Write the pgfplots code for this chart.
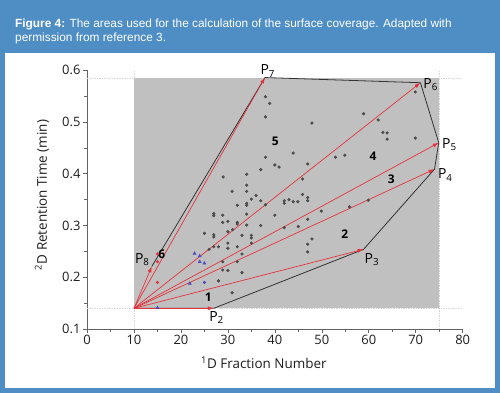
\documentclass[border=0pt]{standalone}
\usepackage{fontspec}
\setmainfont{Open Sans}
\newfontfamily\capfont{Liberation Sans}
\usepackage{pgfplots}
\pgfplotsset{compat=1.18}
\usetikzlibrary{arrows.meta}
\definecolor{banner}{RGB}{78,142,196}
\definecolor{areagray}{RGB}{192,192,192}
\definecolor{dotgray}{RGB}{75,75,75}
\definecolor{hullred}{RGB}{230,50,60}
\definecolor{triblue}{RGB}{75,75,190}
\definecolor{axisgray}{RGB}{100,100,100}
\definecolor{labelcol}{RGB}{30,30,30}
\definecolor{refline}{RGB}{215,215,215}

\pgfplotstableread{
x y
38.0 0.549
38.9 0.536
38.0 0.510
38.0 0.432
37.0 0.408
40.0 0.417
40.9 0.413
29.0 0.394
34.0 0.399
34.0 0.378
30.9 0.366
34.0 0.366
36.0 0.358
35.0 0.351
37.0 0.348
32.0 0.339
34.0 0.343
34.0 0.339
38.0 0.340
42.0 0.348
42.0 0.343
43.0 0.350
27.0 0.323
27.0 0.319
28.9 0.320
34.0 0.322
40.0 0.320
28.9 0.306
30.0 0.308
32.0 0.306
32.0 0.303
34.0 0.301
37.0 0.300
42.0 0.296
25.0 0.285
31.0 0.292
30.0 0.288
27.0 0.282
27.0 0.278
33.0 0.281
35.0 0.281
35.0 0.276
30.0 0.266
35.0 0.266
27.0 0.259
28.0 0.259
26.0 0.254
30.0 0.256
32.0 0.259
33.0 0.245
28.9 0.230
32.0 0.230
28.9 0.214
30.0 0.213
33.0 0.209
28.0 0.193
30.9 0.170
47.9 0.498
58.9 0.516
62.0 0.504
69.9 0.558
63.0 0.480
63.9 0.479
63.9 0.467
69.9 0.469
43.9 0.440
52.9 0.432
54.9 0.436
47.0 0.419
45.9 0.390
45.9 0.360
47.0 0.354
47.0 0.348
43.9 0.346
44.9 0.346
55.9 0.336
59.9 0.349
49.9 0.328
45.0 0.298
47.0 0.312
47.9 0.274
47.0 0.264
47.0 0.249
}\darkpts

\pgfplotstableread{
x y
15.0 0.245
15.0 0.230
15.0 0.190
}\redpts

\pgfplotstableread{
x y
22.9 0.246
24.0 0.241
24.0 0.230
25.0 0.227
21.9 0.188
15.0 0.141
}\bluetri

\begin{document}
\begin{tikzpicture}
\fill[banner] (0bp,0bp) rectangle (500bp,-393bp);
\fill[white] (5bp,-53bp) rectangle (495bp,-388bp);
\node[anchor=base west, text=white, inner sep=0pt, font=\capfont\fontsize{11.9}{13}\selectfont] at (15bp,-27.5bp) {\textbf{Figure 4:} The areas used for the calculation of the surface coverage. Adapted with};
\node[anchor=base west, text=white, inner sep=0pt, font=\capfont\fontsize{11.9}{13}\selectfont] at (15bp,-41.5bp) {permission from reference 3.};
\begin{axis}[
  at={(87bp,-329bp)}, anchor=south west,
  scale only axis, width=375.7bp, height=258.7bp,
  xmin=0, xmax=80, ymin=0.1, ymax=0.6,
  axis x line*=bottom, axis y line*=left,
  axis line style={draw=axisgray, line width=0.8pt},
  tick align=outside,
  major tick style={axisgray, line width=0.6pt},
  minor tick style={axisgray, line width=0.6pt},
  major tick length=4bp, minor tick length=3bp,
  xtick={0,10,...,80}, minor xtick={5,15,...,75},
  ytick={0.1,0.2,0.3,0.4,0.5,0.6},
  yticklabels={0.1,0.2,0.3,0.4,0.5,0.6},
  minor ytick={0.15,0.25,0.35,0.45,0.55},
  /pgf/number format/assume math mode=true,
  tick label style={font=\fontsize{13}{13}\selectfont, text=labelcol},
  xticklabel style={yshift=1bp},
  yticklabel style={xshift=1bp},
  clip=false,
  xlabel={\textsuperscript{1}D Fraction Number},
  ylabel={\textsuperscript{2}D Retention Time (min)},
  label style={font=\fontsize{13.5}{13.5}\selectfont, text=labelcol},
  xlabel style={at={(axis description cs:0.471,-0.131)}, anchor=center},
  ylabel style={at={(axis description cs:-0.12,0.518)}, anchor=center},
]
% reference lines
\addplot[refline, line width=0.6pt, dash pattern=on 1.5pt off 1pt] coordinates {(0,0.14) (80,0.14)};
\addplot[refline, line width=0.6pt, dash pattern=on 1.5pt off 1pt] coordinates {(0,0.585) (80,0.585)};
\addplot[refline, line width=0.6pt, dash pattern=on 1.5pt off 1pt] coordinates {(10,0.1) (10,0.6)};
\addplot[refline, line width=0.6pt, dash pattern=on 1.5pt off 1pt] coordinates {(75,0.1) (75,0.6)};
% gray area
\addplot[fill=areagray, draw=none] coordinates {(10,0.14) (75,0.14) (75,0.585) (10,0.585)} -- cycle;
% data
\addplot[only marks, mark=*, mark size=1.4pt, color=dotgray] table {\darkpts};
\addplot[only marks, mark=*, mark size=1.4pt, color=hullred] table {\redpts};
\addplot[only marks, mark=triangle*, mark size=1.8pt, color=triblue] table {\bluetri};
\addplot[only marks, mark=*, mark size=1.4pt, color=triblue] coordinates {(25,0.190)};
% hull
\addplot[color=black!80, line width=0.8pt] coordinates {(10,0.14) (27,0.14) (58.9,0.254) (74.0,0.409) (74.9,0.460) (71.0,0.576) (37.9,0.586) (13.8,0.221)};
% red arrows
\addplot[hullred, line width=0.7pt, -{Latex[length=6bp,width=4bp]}] coordinates {(10,0.14) (27,0.14)};
\addplot[hullred, line width=0.7pt, -{Latex[length=6bp,width=4bp]}] coordinates {(10,0.14) (58.9,0.254)};
\addplot[hullred, line width=0.7pt, -{Latex[length=6bp,width=4bp]}] coordinates {(10,0.14) (74.0,0.409)};
\addplot[hullred, line width=0.7pt, -{Latex[length=6bp,width=4bp]}] coordinates {(10,0.14) (74.9,0.460)};
\addplot[hullred, line width=0.7pt, -{Latex[length=6bp,width=4bp]}] coordinates {(10,0.14) (71.0,0.576)};
\addplot[hullred, line width=0.7pt, -{Latex[length=6bp,width=4bp]}] coordinates {(10,0.14) (37.9,0.586)};
\addplot[hullred, line width=0.7pt, -{Latex[length=6bp,width=4bp]}] coordinates {(10,0.14) (13.8,0.221)};
% point labels
\node[anchor=base, inner sep=0pt, font=\fontsize{14}{14}\selectfont] at (axis cs:38.5,0.591) {P\textsubscript{7}};
\node[anchor=base west, inner sep=0pt, font=\fontsize{14}{14}\selectfont] at (axis cs:71.6,0.565) {P\textsubscript{6}};
\node[anchor=base west, inner sep=0pt, font=\fontsize{14}{14}\selectfont] at (axis cs:75.6,0.449) {P\textsubscript{5}};
\node[anchor=base west, inner sep=0pt, font=\fontsize{14}{14}\selectfont] at (axis cs:74.7,0.390) {P\textsubscript{4}};
\node[anchor=base west, inner sep=0pt, font=\fontsize{14}{14}\selectfont] at (axis cs:59.1,0.2274) {P\textsubscript{3}};
\node[anchor=base west, inner sep=0pt, font=\fontsize{14}{14}\selectfont] at (axis cs:26.0,0.1147) {P\textsubscript{2}};
\node[anchor=base west, inner sep=0pt, font=\fontsize{14}{14}\selectfont] at (axis cs:10.2,0.2274) {P\textsubscript{8}};
% region labels
\node[font=\bfseries\fontsize{12}{12}\selectfont] at (axis cs:25.8,0.161) {1};
\node[font=\bfseries\fontsize{12}{12}\selectfont] at (axis cs:54.9,0.283) {2};
\node[font=\bfseries\fontsize{12}{12}\selectfont] at (axis cs:64.8,0.390) {3};
\node[font=\bfseries\fontsize{12}{12}\selectfont] at (axis cs:60.9,0.433) {4};
\node[font=\bfseries\fontsize{12}{12}\selectfont] at (axis cs:40.1,0.462) {5};
\node[font=\bfseries\fontsize{12}{12}\selectfont] at (axis cs:15.9,0.244) {6};
\end{axis}
\end{tikzpicture}
\end{document}
